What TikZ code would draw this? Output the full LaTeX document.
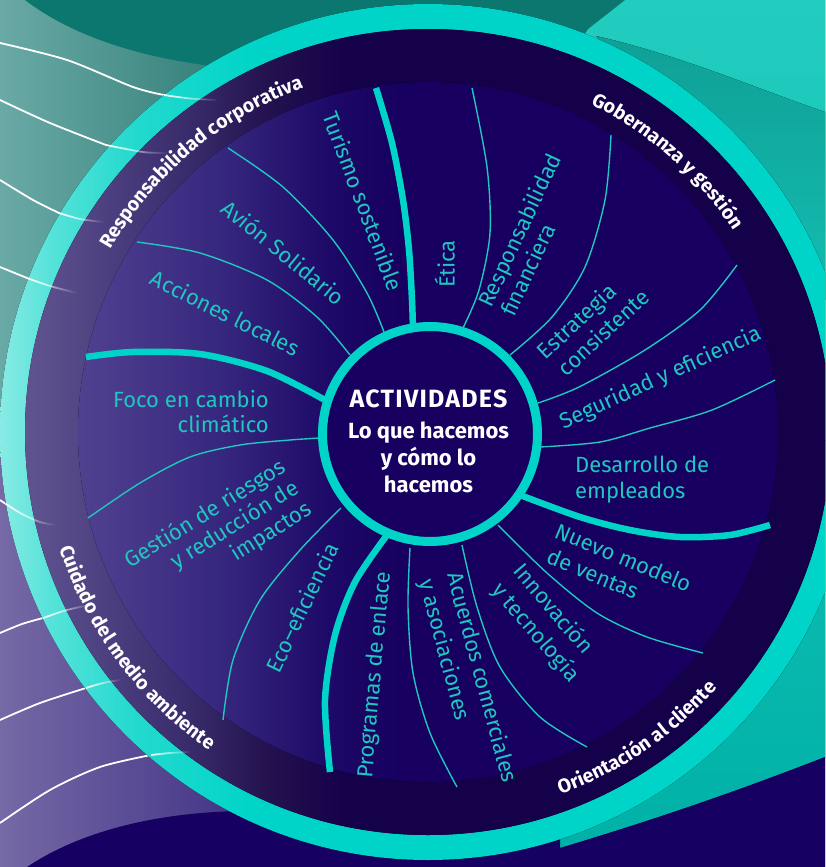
\documentclass[tikz,border=0pt]{standalone}
\usepackage{fontspec}
\setmainfont{Fira Sans}[BoldFont=* Bold]
\usetikzlibrary{decorations.text, fadings}

\definecolor{tealA}{HTML}{00D4C8}
\definecolor{ringLa}{HTML}{88EBE4}
\definecolor{ringLb}{HTML}{55E2D9}
\definecolor{ringLc}{HTML}{22D9CE}
\definecolor{bandLa}{HTML}{605490}
\definecolor{bandLb}{HTML}{4C4080}
\definecolor{bandLc}{HTML}{3A2C6C}
\definecolor{bandLd}{HTML}{24124F}
\definecolor{bandR}{HTML}{15004A}
\definecolor{diskLa}{HTML}{504190}
\definecolor{diskLb}{HTML}{37287F}
\definecolor{diskLc}{HTML}{1D0967}
\definecolor{diskR}{HTML}{17005F}
\definecolor{labelcol}{HTML}{20C6BF}
\definecolor{navy}{HTML}{160062}
\definecolor{darkteal}{HTML}{0C776F}
\definecolor{greyTealL}{HTML}{6AAAA6}
\definecolor{greyTealR}{HTML}{2E7A74}
\definecolor{purpL}{HTML}{7669A6}
\definecolor{purpR}{HTML}{3A2B80}
\definecolor{rtealTop}{HTML}{22CDBF}
\definecolor{rtealBot}{HTML}{00B1A7}
\definecolor{foldTop}{HTML}{0FA097}
\definecolor{foldBot}{HTML}{14BDB1}

\pgfdeclarehorizontalshading{ringshade}{100bp}{color(0bp)=(ringLa); color(25bp)=(ringLa); color(28bp)=(ringLb); color(33bp)=(ringLc); color(40bp)=(tealA); color(100bp)=(tealA)}
\pgfdeclarehorizontalshading{bandshade}{100bp}{color(0bp)=(bandLa); color(25bp)=(bandLa); color(30bp)=(bandLb); color(35bp)=(bandLc); color(40bp)=(bandLd); color(45bp)=(bandR); color(100bp)=(bandR)}
\pgfdeclarehorizontalshading{diskshade}{100bp}{color(0bp)=(diskLa); color(25bp)=(diskLa); color(35bp)=(diskLb); color(43bp)=(diskLc); color(48bp)=(diskR); color(100bp)=(diskR)}
\pgfdeclarehorizontalshading{upshade}{100bp}{color(0bp)=(greyTealL); color(25bp)=(greyTealL); color(40bp)=(greyTealR); color(100bp)=(greyTealR)}
\pgfdeclarehorizontalshading{lowshade}{100bp}{color(0bp)=(purpL); color(25bp)=(purpL); color(42bp)=(purpR); color(100bp)=(purpR)}

\begin{document}
\begin{tikzpicture}[x=1pt, y=-1pt,
  wline/.style={white, line width=1.8pt},
  thinline/.style={draw=labelcol, line width=1.4pt},
  thickline/.style={draw=tealA, line width=6.5pt},
  lab/.style={text=labelcol, font=\fontsize{22}{26}\selectfont, inner sep=0pt},
  ctext/.style={text=white, font=\bfseries\fontsize{22}{26}\selectfont, inner sep=0pt}]
\useasboundingbox (0,0) rectangle (825,867);
\clip (0,0) rectangle (825,867);

% background
\fill[shading=upshade] (0,0) rectangle (825,440);
\fill[shading=lowshade] (0,440) rectangle (825,867);
\fill[top color=rtealTop, bottom color=rtealBot] (560,0) -- (825,0) -- (825,757) .. controls (740,790) and (660,818) .. (560,848) -- cycle;
\fill[top color=foldTop, bottom color=foldBot] (596,36) .. controls (680,55) and (760,90) .. (825,112) -- (825,300) -- (700,130) -- cycle;
\fill[darkteal] (25,0) .. controls (80,42) and (170,70) .. (300,72) -- (560,72) -- (588,29) -- (625,0) -- cycle;
\fill[navy] (27,867) .. controls (70,838) and (140,813) .. (240,811) -- (560,811) -- (560,848) .. controls (660,818) and (740,790) .. (825,757) -- (825,867) -- cycle;

% white lines
\draw[wline] plot[smooth] coordinates {(0,43) (67,60) (133,87) (164,95)};
\draw[wline] plot[smooth] coordinates {(0,100) (50,123) (106,145)};
\draw[wline] plot[smooth] coordinates {(0,180) (33,200) (59,213)};
\draw[wline] plot[smooth] coordinates {(0,267) (27,278)};
\draw[wline] plot[smooth] coordinates {(0,500) (6,504)};
\draw[wline] plot[smooth] coordinates {(0,633) (22,624) (43,618)};
\draw[wline] plot[smooth] coordinates {(0,720) (40,703) (86,688)};
\draw[wline] plot[smooth] coordinates {(0,823) (50,790) (100,767) (151,755)};

% ring
\fill[shading=ringshade] (428,432) circle[radius=428];
\fill[shading=bandshade] (428,432) circle[radius=403];

% faded ends of white lines
\draw[wline, path fading=east] plot[smooth] coordinates {(164,95) (190,98.5) (217,100)};
\draw[wline, path fading=east] plot[smooth] coordinates {(106,145) (143,152) (167,153)};
\draw[wline, path fading=east] plot[smooth] coordinates {(59,213) (80,219) (103,222)};
\draw[wline, path fading=east] plot[smooth] coordinates {(27,278) (50,286) (77,293)};
\draw[wline, path fading=east] plot[smooth] coordinates {(6,504) (22,514) (40,522) (55,525)};
\draw[wline, path fading=east] plot[smooth] coordinates {(43,618) (67,610) (90,605)};
\draw[wline, path fading=east] plot[smooth] coordinates {(86,688) (103,683) (120,680)};
\draw[wline, path fading=east] plot[smooth] coordinates {(151,755) (170,753) (190,752)};

% inner disk
\fill[shading=diskshade] (428,432) circle[radius=350];

% thin dividers
\draw[thinline] plot[smooth] coordinates {(228,148) (283,187) (333,240) (367,293) (384,332)};
\draw[thinline] plot[smooth] coordinates {(137,242) (200,253) (267,280) (317,317) (350,355)};
\draw[thinline] plot[smooth] coordinates {(88,518) (140,483) (190,457) (240,445) (290,440) (320,438)};
\draw[thinline] plot[smooth] coordinates {(341,508) (300,550) (260,600) (233,660) (223,720)};
\draw[thinline] plot[smooth] coordinates {(410,548) (408,607) (413,673) (430,733) (457,787)};
\draw[thinline] plot[smooth] coordinates {(462,545) (477,607) (500,667) (540,717) (587,747)};
\draw[thinline] plot[smooth] coordinates {(498,525) (547,573) (597,613) (647,637) (703,653)};
\draw[thinline] plot[smooth] coordinates {(540,447) (600,442) (650,428) (712,410) (775,380)};
\draw[thinline] plot[smooth] coordinates {(538,403) (579,387) (645,350) (700,310) (737,265)};
\draw[thinline] plot[smooth] coordinates {(510,355) (552,317) (585,267) (605,200) (611,135)};
\draw[thinline] plot[smooth] coordinates {(463,328) (479,290) (490,233) (487,167) (472,88)};

% thick dividers
\draw[thickline] plot[smooth] coordinates {(376,88) (392,143) (403,200) (409,250) (412,300) (413,330)};
\draw[thickline] plot[smooth] coordinates {(86,357) (133,352) (200,354) (267,371) (325,400)};
\draw[thickline] plot[smooth] coordinates {(387,535) (355,582) (335,635) (325,700) (330,772)};
\draw[thickline] plot[smooth] coordinates {(520,495) (580,517) (630,530) (680,537) (730,535) (770,525)};

% center
\node[circle, draw=tealA, line width=9pt, fill=diskR, minimum size=215pt, inner sep=0pt] (center) at (430,434) {};
\node[ctext, font=\bfseries\fontsize{25}{28}\selectfont\addfontfeature{LetterSpace=5}, anchor=base] (act) at (428.5,407) {ACTIVIDADES};
\node[ctext, anchor=base] (lo1) at (428.5,438) {Lo que hacemos};
\node[ctext, anchor=base] (lo2) at (428.5,465) {y cómo lo};
\node[ctext, anchor=base] (lo3) at (428.5,492) {hacemos};

% ring labels
\path[decorate, decoration={text along path, text align=center, text={|\color{white}\bfseries\fontsize{19.5}{22}\selectfont|Responsabilidad corporativa}}] (428,432) ++(170:366) arc[start angle=170, end angle=290, radius=366];
\path[decorate, decoration={text along path, text align=center, text={|\color{white}\bfseries\fontsize{19.5}{22}\selectfont|Gobernanza y gestión}}] (428,432) ++(251.5:366) arc[start angle=251.5, end angle=371.5, radius=366];
\path[decorate, decoration={text along path, text align=center, text={|\color{white}\bfseries\fontsize{19.5}{22}\selectfont|Orientación al cliente}}] (428,432) ++(115.7:386) arc[start angle=115.7, end angle=-4.3, radius=386];
\path[decorate, decoration={text along path, text align=center, text={|\color{white}\bfseries\fontsize{19.5}{22}\selectfont|Cuidado del medio ambiente}}] (428,432) ++(203.5:386) arc[start angle=203.5, end angle=83.5, radius=386];

% labels
\node[lab, rotate=-69.3, anchor=mid] (turismo) at (358,203) {Turismo sostenible};
\node[lab, rotate=-39.4, anchor=mid] (avion) at (280,257) {Avión Solidario};
\node[lab, rotate=-26.6, anchor=mid] (acciones) at (223,318) {Acciones locales};
\node[lab, anchor=base east] (foco1) at (269,407) {Foco en cambio};
\node[lab, anchor=base east] (foco2) at (269,432) {climático};
\node[lab, rotate=32, anchor=mid east] (gest1) at (285.8,468.8) {Gestión de riesgos};
\node[lab, rotate=32, anchor=mid east] (gest2) at (299,490) {y reducción de};
\node[lab, rotate=32, anchor=mid east] (gest3) at (312.3,511.2) {impactos};
\node[lab, rotate=64.5, anchor=mid] (eco) at (307,610) {Eco–eficiencia};
\node[lab, rotate=85, anchor=mid] (prog) at (378.5,675) {Programas de enlace};
\node[lab, rotate=-75, anchor=mid west] (acu1) at (449.5,574) {Acuerdos comerciales};
\node[lab, rotate=-75, anchor=mid west] (acu2) at (421.5,581) {y asociaciones};
\node[lab, rotate=-49.5, anchor=mid west] (inno1) at (514,570) {Innovación};
\node[lab, rotate=-49.5, anchor=mid west] (inno2) at (493,589) {y tecnología};
\node[lab, rotate=-22.5, anchor=mid west] (nuevo1) at (554,534.5) {Nuevo modelo};
\node[lab, rotate=-22.5, anchor=mid west] (nuevo2) at (546,560) {de ventas};
\node[lab, anchor=base west] (desa1) at (575,472) {Desarrollo de};
\node[lab, anchor=base west] (desa2) at (575,498) {empleados};
\node[lab, rotate=24.5, anchor=mid] (segur) at (662,381.5) {Seguridad y eficiencia};
\node[lab, rotate=43, anchor=mid west] (estr1) at (544,358.5) {Estrategia};
\node[lab, rotate=43, anchor=mid west] (estr2) at (565,375.5) {consistente};
\node[lab, rotate=65, anchor=mid west] (resp1) at (489,308) {Responsabilidad};
\node[lab, rotate=65, anchor=mid west] (resp2) at (512,317) {financiera};
\node[lab, rotate=90, anchor=mid] (etica) at (452,264) {Ética};
\end{tikzpicture}
\end{document}
